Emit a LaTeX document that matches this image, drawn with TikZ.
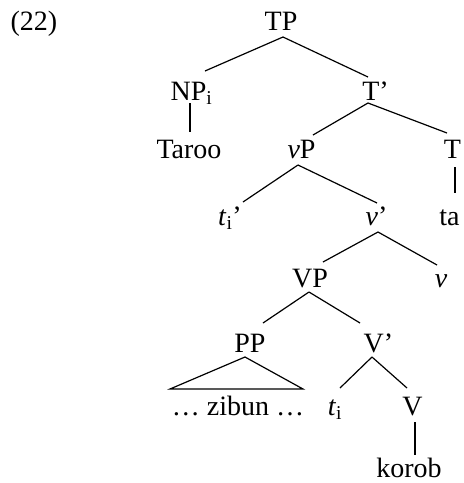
\documentclass[tikz,border=0pt]{standalone}
\usepackage{fontspec}
\setmainfont{Liberation Serif}
\usetikzlibrary{calc}
\begin{document}
\begin{tikzpicture}[x=1pt,y=-1pt,
  lab/.style={anchor=base,inner sep=0pt,font=\fontsize{28}{32}\selectfont},
  br/.style={line width=1.2pt}]
\useasboundingbox (0,0) rectangle (464,483);
\node[lab] (ex) at (34,30) {(22)};
\node[lab] (TP) at (281,30) {TP};
\node[lab] (NP) at (191.5,100) {NP\textsubscript{i}};
\node[lab] (Tb) at (375.5,100) {T’};
\node[lab] (Taroo) at (189,158) {Taroo};
\node[lab] (vP) at (301.5,158) {\textit{v}P};
\node[lab] (T) at (452.5,158) {T};
\node[lab] (tp) at (230,225) {\textit{t}\textsubscript{i}’};
\node[lab] (vb) at (376.5,225) {\textit{v}’};
\node[lab] (ta) at (449.5,225) {ta};
\node[lab] (VP) at (310,287) {VP};
\node[lab] (v) at (441,287) {\textit{v}};
\node[lab] (PP) at (250,352) {PP};
\node[lab] (Vb) at (378.5,352) {V’};
\node[lab] (zibun) at (238,415) {… zibun …};
\node[lab] (t) at (335,415) {\textit{t}\textsubscript{i}};
\node[lab] (V) at (412.5,415) {V};
\node[lab] (korob) at (409,477) {korob};
% branches
\draw[br] ($(TP.base)+(2,7)$) -- ($(NP.base)+(13.5,-29)$);
\draw[br] ($(TP.base)+(2,7)$) -- ($(Tb.base)+(-7.5,-23)$);
\draw[br] ($(NP.base)+(-1.5,3)$) -- ($(Taroo.base)+(1,-26)$);
\draw[br] ($(Tb.base)+(-7.5,3)$) -- ($(vP.base)+(11.5,-23)$);
\draw[br] ($(Tb.base)+(-7.5,3)$) -- ($(T.base)+(-5.5,-25)$);
\draw[br] ($(vP.base)+(-3.5,7)$) -- ($(tp.base)+(13,-23)$);
\draw[br] ($(vP.base)+(-3.5,7)$) -- ($(vb.base)+(0.5,-22)$);
\draw[br] ($(T.base)+(2.5,9)$) -- ($(ta.base)+(5.5,-32)$);
\draw[br] ($(vb.base)+(1.5,7)$) -- ($(VP.base)+(13,-25)$);
\draw[br] ($(vb.base)+(1.5,7)$) -- ($(v.base)+(-4,-22)$);
\draw[br] ($(VP.base)+(-1,5)$) -- ($(PP.base)+(13,-29)$);
\draw[br] ($(VP.base)+(-1,5)$) -- ($(Vb.base)+(-18.5,-29)$);
\draw[br] ($(PP.base)+(-5,5)$) -- ($(zibun.base)+(-68,-26)$) -- ($(zibun.base)+(65,-26)$) -- cycle;
\draw[br] ($(Vb.base)+(-6.5,5)$) -- ($(t.base)+(5,-27)$);
\draw[br] ($(Vb.base)+(-6.5,5)$) -- ($(V.base)+(-5.5,-27)$);
\draw[br] ($(V.base)+(2.5,7)$) -- ($(korob.base)+(6,-22)$);
\end{tikzpicture}
\end{document}
